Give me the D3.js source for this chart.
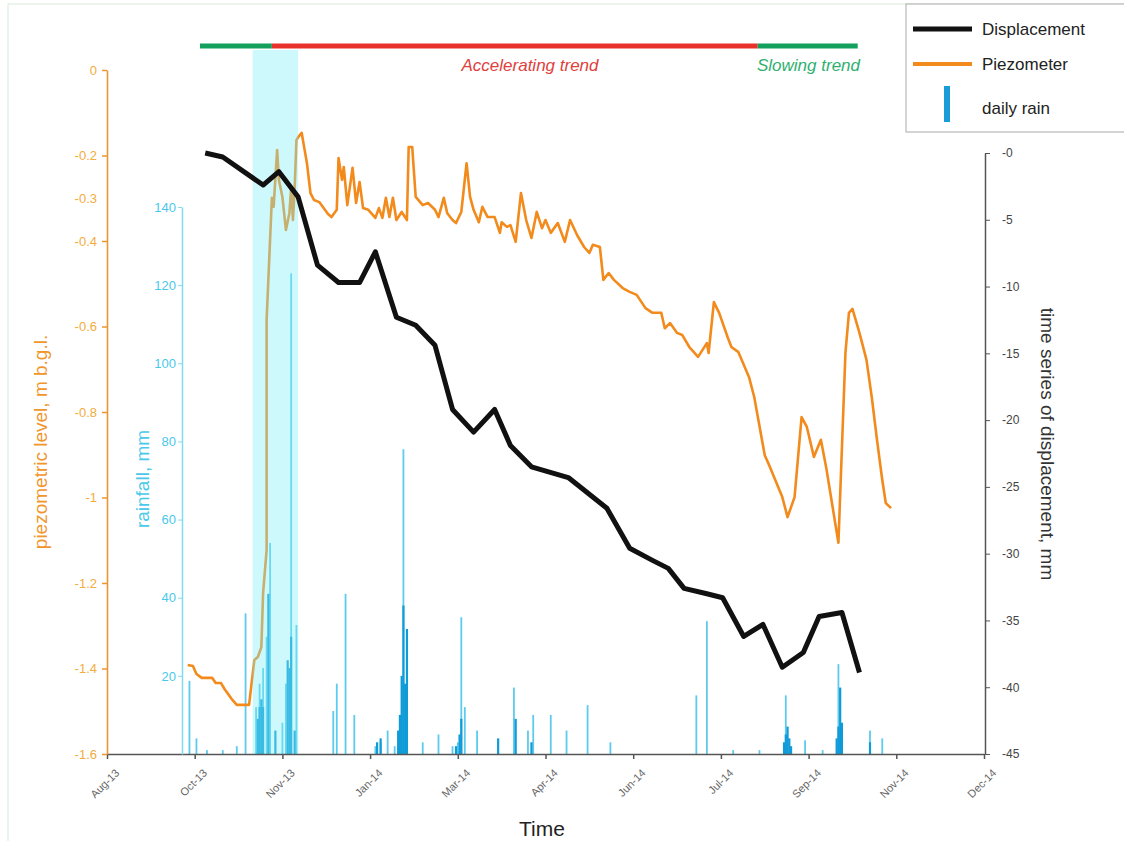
<!DOCTYPE html>
<html>
<head>
<meta charset="utf-8">
<script src="https://cdn.jsdelivr.net/npm/d3@7"></script>
<style>
  body { margin: 0; background: #fff; }
  svg { font-family: "Liberation Sans", Arial, sans-serif; }
</style>
</head>
<body>
<div id="chart"></div>
<script>
// all day values are days after 14 Aug 2013
const START = new Date(Date.UTC(2013, 7, 14));

const xTickDays = [0, 50, 100, 150, 200, 250, 300, 350, 400, 450, 500];

// displacement (mm)
const dispDay = [56, 66, 89, 98, 109, 120, 132, 144, 153, 165, 176, 187, 197, 209, 221, 230,
  242, 263, 285, 298, 311, 320, 329, 342, 351, 363, 374, 385, 397, 406, 419, 429];
const dispMm = [0, -0.3, -2.4, -1.4, -3.3, -8.4, -9.7, -9.7, -7.4, -12.3, -12.9, -14.4, -19.2, -20.9, -19.2, -21.9,
  -23.5, -24.3, -26.6, -29.6, -30.5, -31.1, -32.6, -33.0, -33.3, -36.2, -35.3, -38.5, -37.4, -34.7, -34.4, -38.9];

// piezometric level (m b.g.l.)
const piezoDay = [46.2, 49.0, 51.3, 54.2, 60.4, 62.7, 65.0, 67.3, 71.8, 74.7, 81.5, 84.4, 86.7, 88.4, 89.5, 91.2,
  91.8, 94.1, 95.2, 97.5, 98.6, 100.3, 102.6, 104.3, 105.5, 106.0, 107.2, 108.3, 109.5, 111.2, 112.3, 114.0,
  116.3, 118.6, 121.4, 123.7, 126.0, 128.8, 131.1, 132.3, 134.6, 135.1, 137.4, 140.3, 142.5, 144.8, 146.5,
  149.9, 153.9, 155.6, 157.4, 159.6, 161.9, 163.6, 165.9, 168.8, 171.0, 172.7, 174.5, 176.7, 180.2, 183.0,
  187.0, 189.9, 192.1, 194.4, 197.3, 199.5, 202.4, 205.2, 207.0, 209.8, 212.1, 214.4, 217.2, 221.2, 224.1,
  225.8, 228.1, 230.9, 233.8, 236.6, 239.5, 242.3, 245.7, 248.0, 250.9, 253.7, 257.7, 261.7, 264.5, 268.0,
  272.5, 275.4, 277.1, 281.1, 283.9, 286.8, 289.6, 294.2, 298.2, 302.7, 307.9, 311.3, 316.4, 318.1, 321.0,
  325.0, 328.4, 332.4, 337.0, 342.6, 343.8, 346.6, 349.5, 354.0, 356.9, 360.9, 366.6, 369.4, 375.1, 378.0,
  385.4, 388.8, 392.2, 396.2, 399.7, 403.6, 407.1, 410.5, 417.9, 421.9, 423.6, 425.9, 429.3, 433.3, 436.1,
  439.6, 442.4, 444.7, 447.0];
const piezoLevel = [-1.392, -1.394, -1.413, -1.422, -1.422, -1.434, -1.434, -1.448, -1.471, -1.485, -1.485, -1.380, -1.373, -1.350, -1.223, -1.123,
  -0.585, -0.299, -0.320, -0.187, -0.257, -0.297, -0.374, -0.335, -0.274, -0.351, -0.276, -0.164, -0.157, -0.147, -0.171, -0.218,
  -0.288, -0.304, -0.309, -0.320, -0.337, -0.344, -0.327, -0.206, -0.257, -0.227, -0.316, -0.229, -0.311, -0.262, -0.323,
  -0.327, -0.346, -0.323, -0.346, -0.299, -0.344, -0.299, -0.351, -0.332, -0.351, -0.180, -0.180, -0.297, -0.316, -0.311,
  -0.327, -0.344, -0.299, -0.335, -0.351, -0.358, -0.332, -0.218, -0.297, -0.327, -0.356, -0.320, -0.344, -0.344, -0.381,
  -0.356, -0.367, -0.363, -0.402, -0.288, -0.351, -0.393, -0.332, -0.370, -0.351, -0.381, -0.358, -0.402, -0.351, -0.386,
  -0.414, -0.428, -0.409, -0.414, -0.491, -0.475, -0.491, -0.510, -0.519, -0.526, -0.557, -0.568, -0.568, -0.604, -0.592,
  -0.615, -0.620, -0.648, -0.671, -0.639, -0.662, -0.543, -0.568, -0.627, -0.648, -0.660, -0.718, -0.765, -0.901, -0.929,
  -0.999, -1.046, -0.999, -0.812, -0.835, -0.905, -0.865, -0.929, -1.106, -0.662, -0.568, -0.559, -0.615, -0.678, -0.765,
  -0.865, -0.959, -1.013, -1.025];

// daily rain (mm), two overlaid gauges
const rainDayA = [47, 51, 57, 66, 74, 79, 85, 87, 89, 91, 93, 100, 102, 105, 108, 129, 131, 136, 141, 153, 156, 160, 164,
  169, 180, 189, 197, 200, 202, 204, 211, 232, 240, 243, 253, 262, 274, 287, 336, 342, 357, 372, 387, 398, 408, 417, 435, 442];
const rainMmA = [18.7, 4, 1, 1, 2, 36, 12, 18, 22, 30, 54, 8, 18, 123, 33, 11, 18, 41, 10, 2, 3, 6, 2,
  78, 3, 5, 2, 3, 35, 12, 6, 17, 6, 10, 10, 6, 12.5, 3, 15, 34, 1, 1, 15, 3.5, 1, 23, 6, 4];
const rainDayB = [86, 87, 88, 89, 92, 96, 103, 104, 105, 107, 154, 156, 166, 167, 168, 169, 170, 171,
  199, 201, 202, 223, 233, 242, 386, 387, 388, 389, 390, 416, 417, 418, 419, 435];
const rainMmB = [9, 12, 14, 12, 41, 6, 24, 22, 30, 6, 3, 4, 6, 10, 20, 38, 18, 32,
  2, 5, 9, 4, 9, 3, 3, 5, 7, 4, 2, 4, 7, 17, 8, 3];

// trend periods and heavy-rain window
const trendStart = [53, 94, 371];
const trendEnd = [94, 371, 428];
const trendName = ["", "Accelerating trend", "Slowing trend"];
const trendColor = ["#13a05c", "#e8312a", "#13a05c"];
const bandDays = [83, 109];

const W = 1124, H = 841;
const day = d => d3.utcDay.offset(START, d);

const svg = d3.select('#chart').append('svg')
  .attr('width', W)
  .attr('height', H);

svg.append('rect')
  .attr('x', 8).attr('y', 4).attr('width', W).attr('height', H)
  .attr('fill', 'none').attr('stroke', '#dbe9dc');

const x = d3.scaleUtc().domain([day(0), day(500)]).range([107, 984]);
const yPiezo = d3.scaleLinear().domain([0, -1.6]).range([70, 754]);
const yRain = d3.scaleLinear().domain([0, 140]).range([754, 207]);
const yDisp = d3.scaleLinear().domain([0, -45]).range([153, 754]);

// rain bars
function drawRain(days, vals, color, w) {
  svg.append('g')
    .selectAll('rect')
    .data(days.map((d, i) => ({d: d, v: vals[i]})))
    .enter()
    .append('rect')
    .attr('x', p => x(day(p.d)) - w / 2)
    .attr('y', p => yRain(p.v))
    .attr('width', w)
    .attr('height', p => yRain(0) - yRain(p.v))
    .attr('fill', color);
}
drawRain(rainDayA, rainMmA, '#5ccbee', 1.8);
drawRain(rainDayB, rainMmB, '#0f9bd8', 2.2);

// piezometer
const piezo = piezoDay.map((d, i) => [d, piezoLevel[i]]);
svg.append('path')
  .datum(piezo)
  .attr('fill', 'none')
  .attr('stroke', '#f28a1c')
  .attr('stroke-width', 2.6)
  .attr('stroke-linejoin', 'round')
  .attr('d', d3.line().x(p => x(day(p[0]))).y(p => yPiezo(p[1])));

// heavy rain window
svg.append('rect')
  .attr('x', x(day(bandDays[0])))
  .attr('y', 50)
  .attr('width', x(day(bandDays[1])) - x(day(bandDays[0])))
  .attr('height', 754 - 50)
  .attr('fill', '#7ff0f6')
  .attr('opacity', 0.38);

// displacement
const disp = dispDay.map((d, i) => [d, dispMm[i]]);
svg.append('path')
  .datum(disp)
  .attr('fill', 'none')
  .attr('stroke', '#111')
  .attr('stroke-width', 5)
  .attr('stroke-linejoin', 'round')
  .attr('d', d3.line().x(p => x(day(p[0]))).y(p => yDisp(p[1])));

// trend bar
trendStart.forEach((s, i) => {
  svg.append('line')
    .attr('x1', x(day(s))).attr('x2', x(day(trendEnd[i])))
    .attr('y1', 46).attr('y2', 46)
    .attr('stroke', trendColor[i])
    .attr('stroke-width', 5);
});
svg.append('text')
  .attr('x', 530).attr('y', 71)
  .attr('text-anchor', 'middle')
  .attr('font-style', 'italic')
  .attr('font-size', 17)
  .attr('fill', '#e0403c')
  .text(trendName[1]);
svg.append('text')
  .attr('x', 757).attr('y', 71)
  .attr('font-style', 'italic')
  .attr('font-size', 17)
  .attr('fill', '#2fb070')
  .text(trendName[2]);

// x axis
const xAxis = svg.append('g')
  .attr('transform', 'translate(0,754)')
  .call(d3.axisBottom(x)
    .tickValues(xTickDays.map(day))
    .tickFormat(d3.utcFormat('%b-%y'))
    .tickSize(5)
    .tickSizeOuter(0));
xAxis.select('.domain').attr('stroke', '#555').attr('stroke-width', 1.5);
xAxis.selectAll('.tick line').attr('stroke', '#555').attr('stroke-width', 1.5);
xAxis.selectAll('.tick text')
  .attr('font-size', 11)
  .attr('fill', '#666')
  .attr('text-anchor', 'end')
  .attr('dx', 0).attr('dy', 0)
  .attr('transform', 'translate(7,14) rotate(-45)');

// piezometer axis
const fmt1 = d => String(+d.toFixed(1));
const yAxisP = svg.append('g')
  .attr('transform', 'translate(107,0)')
  .call(d3.axisLeft(yPiezo)
    .tickValues([0, -0.2, -0.4, -0.6, -0.8, -1, -1.2, -1.4, -1.6])
    .tickFormat(fmt1)
    .tickSize(5)
    .tickSizeOuter(0));
yAxisP.select('.domain').attr('stroke', '#ec9632').attr('stroke-width', 1.6);
yAxisP.selectAll('.tick line').attr('stroke', '#ec9632').attr('stroke-width', 1.5);
yAxisP.selectAll('.tick text').attr('font-size', 13).attr('fill', '#f2ad3c').attr('x', -10);
svg.append('text')
  .attr('x', 97).attr('y', yPiezo(-0.3) + 5)
  .attr('text-anchor', 'end')
  .attr('font-size', 13)
  .attr('fill', '#f2ad3c')
  .text('-0.3');

// rain axis
const yAxisR = svg.append('g')
  .attr('transform', 'translate(182,0)')
  .call(d3.axisLeft(yRain)
    .tickValues([20, 40, 60, 80, 100, 120, 140])
    .tickSize(4)
    .tickSizeOuter(0));
yAxisR.select('.domain').attr('stroke', '#82dcef').attr('stroke-width', 1.5);
yAxisR.selectAll('.tick line').attr('stroke', '#82dcef');
yAxisR.selectAll('.tick text').attr('font-size', 13).attr('fill', '#4ac8ea').attr('x', -6);

// displacement axis
const yAxisD = svg.append('g')
  .attr('transform', 'translate(985,0)')
  .call(d3.axisRight(yDisp)
    .tickValues(d3.range(0, -46, -5))
    .tickFormat(d => d === 0 ? '-0' : d)
    .tickSize(5)
    .tickSizeOuter(0));
yAxisD.select('.domain').attr('stroke', '#555').attr('stroke-width', 1.5);
yAxisD.selectAll('.tick line').attr('stroke', '#555');
yAxisD.selectAll('.tick text').attr('font-size', 12).attr('fill', '#444').attr('x', 17);

// axis titles
svg.append('text')
  .attr('transform', 'translate(47,442) rotate(-90)')
  .attr('text-anchor', 'middle')
  .attr('font-size', 19)
  .attr('fill', '#f0962c')
  .text('piezometric level, m b.g.l.');
svg.append('text')
  .attr('transform', 'translate(149,479) rotate(-90)')
  .attr('text-anchor', 'middle')
  .attr('font-size', 19)
  .attr('fill', '#4ac8ea')
  .text('rainfall, mm');
svg.append('text')
  .attr('transform', 'translate(1041,444) rotate(90)')
  .attr('text-anchor', 'middle')
  .attr('font-size', 19)
  .attr('fill', '#333')
  .text('time series of displacement, mm');
svg.append('text')
  .attr('x', 542).attr('y', 836)
  .attr('text-anchor', 'middle')
  .attr('font-size', 21)
  .attr('fill', '#222')
  .text('Time');

// legend
const legend = svg.append('g');
legend.append('rect')
  .attr('x', 906).attr('y', 4).attr('width', 230).attr('height', 128)
  .attr('fill', '#fff').attr('stroke', '#aaa');
legend.append('line')
  .attr('x1', 913).attr('x2', 972).attr('y1', 29).attr('y2', 29)
  .attr('stroke', '#111').attr('stroke-width', 5);
legend.append('line')
  .attr('x1', 913).attr('x2', 972).attr('y1', 64).attr('y2', 64)
  .attr('stroke', '#f28a1c').attr('stroke-width', 4);
legend.append('line')
  .attr('x1', 947).attr('x2', 947).attr('y1', 86).attr('y2', 122)
  .attr('stroke', '#1a9dd6').attr('stroke-width', 6);
[['Displacement', 35], ['Piezometer', 70], ['daily rain', 114]].forEach(t => {
  legend.append('text')
    .attr('x', 982).attr('y', t[1])
    .attr('font-size', 17)
    .attr('fill', '#222')
    .text(t[0]);
});
</script>
</body>
</html>
